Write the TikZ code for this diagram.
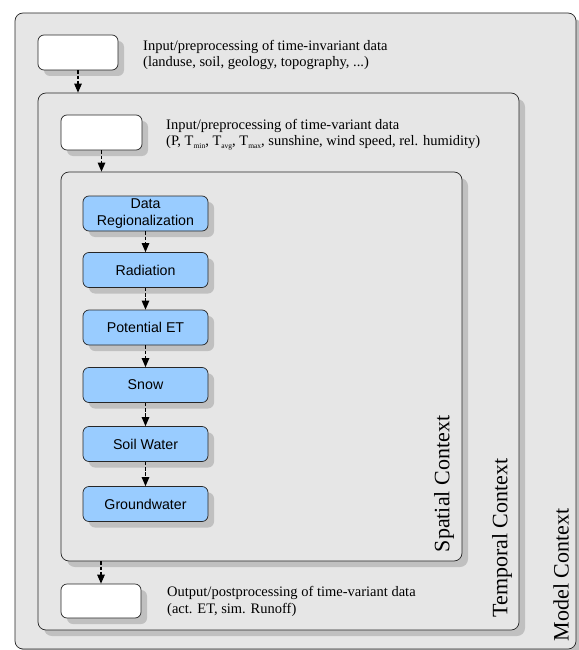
\documentclass[tikz,border=0pt]{standalone}
\usepackage{fontspec}
\setmainfont{Liberation Serif}
\setsansfont{Liberation Sans}
\usetikzlibrary{shadows,arrows.meta}
\definecolor{ctxfill}{HTML}{E6E6E6}
\definecolor{shade}{HTML}{C0C0C0}
\definecolor{procfill}{HTML}{99CCFF}
% small, low subscript for the temperature symbols
\newcommand{\lowsub}[1]{\raisebox{-3pt}{\fontsize{7.5}{8}\selectfont #1}}
\begin{document}
\begin{tikzpicture}[x=1pt,y=-1pt,
  shadowed/.style={drop shadow={shadow xshift=6pt,shadow yshift=-6pt,fill=shade,opacity=1}},
  ctx/.style={draw=black!85,line width=0.7pt,rounded corners=8pt,fill=ctxfill,shadowed,inner sep=0pt},
  iobox/.style={draw=black!85,line width=0.7pt,rounded corners=6pt,fill=white,shadowed,inner sep=0pt,minimum width=80pt,minimum height=35pt},
  proc/.style={draw=black!85,line width=0.7pt,rounded corners=6pt,fill=procfill,shadowed,inner sep=0pt,minimum width=125pt,minimum height=35pt,align=center,font=\sffamily\fontsize{14.2}{17}\selectfont},
  note/.style={anchor=west,align=left,inner sep=0pt,font=\fontsize{14.5}{16.5}\selectfont},
  ctxlabel/.style={rotate=90,inner sep=0pt,font=\fontsize{22}{26}\selectfont},
  flow/.style={draw=black,line width=1.1pt,dash pattern=on 3.5pt off 1.8pt,-{Triangle[length=9pt,width=7.5pt]}}]
\useasboundingbox (0,0) rectangle (578,650);

% nested context frames
\node[ctx,minimum width=561pt,minimum height=636pt] (model) at (295.5,331) {};
\node[ctx,minimum width=481pt,minimum height=537pt] (temporal) at (278.5,361.5) {};
\node[ctx,minimum width=401pt,minimum height=389pt] (spatial) at (261.5,366.5) {};

% input / output boxes
\node[iobox] (in1) at (78,52.5) {};
\node[iobox,minimum width=81pt] (in2) at (101.5,132.5) {};
\node[iobox,minimum height=34pt] (out) at (101,601) {};

\node[note] (t1) at (143,55) {Input/preprocessing of time-invariant data\\(landuse, soil, geology, topography, ...)};
\node[note] (t2) at (166,134.5) {Input/preprocessing of time-variant data\\(P, T\lowsub{min}, T\lowsub{avg}, T\lowsub{max}, sunshine, wind speed, rel. humidity)};
\node[note] (t3) at (167,601.5) {Output/postprocessing of time-variant data\\(act. ET, sim. Runoff)};

% process chain
\node[proc] (reg) at (145.5,213.5) {Data\\Regionalization};
\node[proc] (rad) at (145.5,270) {Radiation};
\node[proc] (pet) at (145.5,327.5) {Potential ET};
\node[proc] (snow) at (145.5,385) {Snow};
\node[proc] (soil) at (145.5,444) {Soil Water};
\node[proc] (gw) at (145.5,504) {Groundwater};

% context labels
\node[ctxlabel] (lsp) at (444,484) {Spatial Context};
\node[ctxlabel] (lte) at (502,538) {Temporal Context};
\node[ctxlabel] (lmo) at (561,575) {Model Context};

% connectors
\draw[flow] (in1.south) -- (in1.south |- temporal.north);
\draw[flow] (in2.south) -- (in2.south |- spatial.north);
\draw[flow] (reg) -- (rad);
\draw[flow] (rad) -- (pet);
\draw[flow] (pet) -- (snow);
\draw[flow] (snow) -- (soil);
\draw[flow] (soil) -- (gw);
\draw[flow] (spatial.south -| out.north) -- (out.north);
\end{tikzpicture}
\end{document}
